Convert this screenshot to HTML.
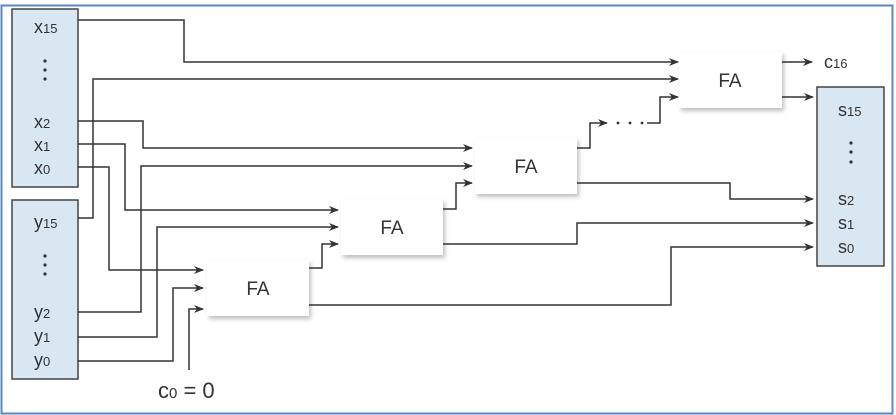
<!DOCTYPE html>
<html><head><meta charset="utf-8"><style>
html,body{margin:0;padding:0;background:#fff}
svg{display:block}
text{font-family:"Liberation Sans",sans-serif;fill:#333}
</style></head><body>
<svg width="896" height="415" viewBox="0 0 896 415" xmlns="http://www.w3.org/2000/svg">
<defs>
<marker id="a" markerWidth="10" markerHeight="8" refX="9" refY="4" orient="auto" markerUnits="userSpaceOnUse">
<path d="M0,0 L10,4 L0,8 L3,4 Z" fill="#333"/></marker>
<filter id="sh" x="-10%" y="-10%" width="130%" height="140%"><feDropShadow dx="2" dy="3" stdDeviation="2" flood-color="#000" flood-opacity="0.25"/></filter>
</defs>
<rect x="1.5" y="5.5" width="891" height="408" fill="#fff" stroke="#5b87c5" stroke-width="2"/>
<rect x="12" y="9" width="66" height="178" fill="#d9e7f2" stroke="#444" stroke-width="1.5"/>
<rect x="12" y="200" width="66" height="179" fill="#d9e7f2" stroke="#444" stroke-width="1.5"/>
<rect x="817" y="87" width="67" height="179" fill="#d9e7f2" stroke="#444" stroke-width="1.5"/>
<g font-size="18">
<text x="34" y="33">x<tspan font-size="13">15</tspan></text>
<text x="34" y="128">x<tspan font-size="13">2</tspan></text>
<text x="34" y="151">x<tspan font-size="13">1</tspan></text>
<text x="34" y="174">x<tspan font-size="13">0</tspan></text>
<text x="34" y="228">y<tspan font-size="13">15</tspan></text>
<text x="34" y="318">y<tspan font-size="13">2</tspan></text>
<text x="34" y="342">y<tspan font-size="13">1</tspan></text>
<text x="34" y="366">y<tspan font-size="13">0</tspan></text>
<text x="838" y="116">s<tspan font-size="13">15</tspan></text>
<text x="838" y="205">s<tspan font-size="13">2</tspan></text>
<text x="838" y="229">s<tspan font-size="13">1</tspan></text>
<text x="838" y="253">s<tspan font-size="13">0</tspan></text>
<text x="824" y="68">c<tspan font-size="13">16</tspan></text>
</g>
<g fill="#333">
<circle cx="45" cy="61" r="1.6"/><circle cx="45" cy="70" r="1.6"/><circle cx="45" cy="79" r="1.6"/>
<circle cx="45" cy="256" r="1.6"/><circle cx="45" cy="265" r="1.6"/><circle cx="45" cy="274" r="1.6"/>
<circle cx="851" cy="143" r="1.6"/><circle cx="851" cy="152" r="1.6"/><circle cx="851" cy="162" r="1.6"/>
<circle cx="618" cy="123" r="1.4"/><circle cx="630" cy="123" r="1.4"/><circle cx="642" cy="123" r="1.4"/>
</g>
<g fill="#fff" filter="url(#sh)">
<rect x="207" y="260" width="102" height="56"/>
<rect x="341" y="199" width="102" height="56"/>
<rect x="475" y="138" width="102" height="56"/>
<rect x="679" y="52" width="103" height="56"/>
</g>
<g font-size="19" text-anchor="middle">
<text x="258" y="295">FA</text><text x="392" y="234">FA</text>
<text x="526" y="173">FA</text><text x="730" y="87">FA</text>
</g>
<g fill="none" stroke="#333" stroke-width="1.5" marker-end="url(#a)">
<path d="M78,20H184V62H678"/>
<path d="M78,218H93V79H678"/>
<path d="M78,121H143V148H472"/>
<path d="M78,312H141V166H472"/>
<path d="M78,144H125V210H338"/>
<path d="M78,337H157V227H338"/>
<path d="M78,167H109V270H203"/>
<path d="M78,361H173V288H203"/>
<path d="M189,370V309H203"/>
<path d="M309,268H322V244H338"/>
<path d="M309,305H671V247H813"/>
<path d="M443,209H456V183H472"/>
<path d="M443,244H577V223H813"/>
<path d="M577,148H590V123H607"/>
<path d="M647,123H660V97H678"/>
<path d="M577,183H730V199H813"/>
<path d="M782,62H812"/>
<path d="M782,97H813"/>
</g>
<text x="158" y="398" font-size="22">c<tspan font-size="15">0</tspan> = 0</text>
</svg>
</body></html>
